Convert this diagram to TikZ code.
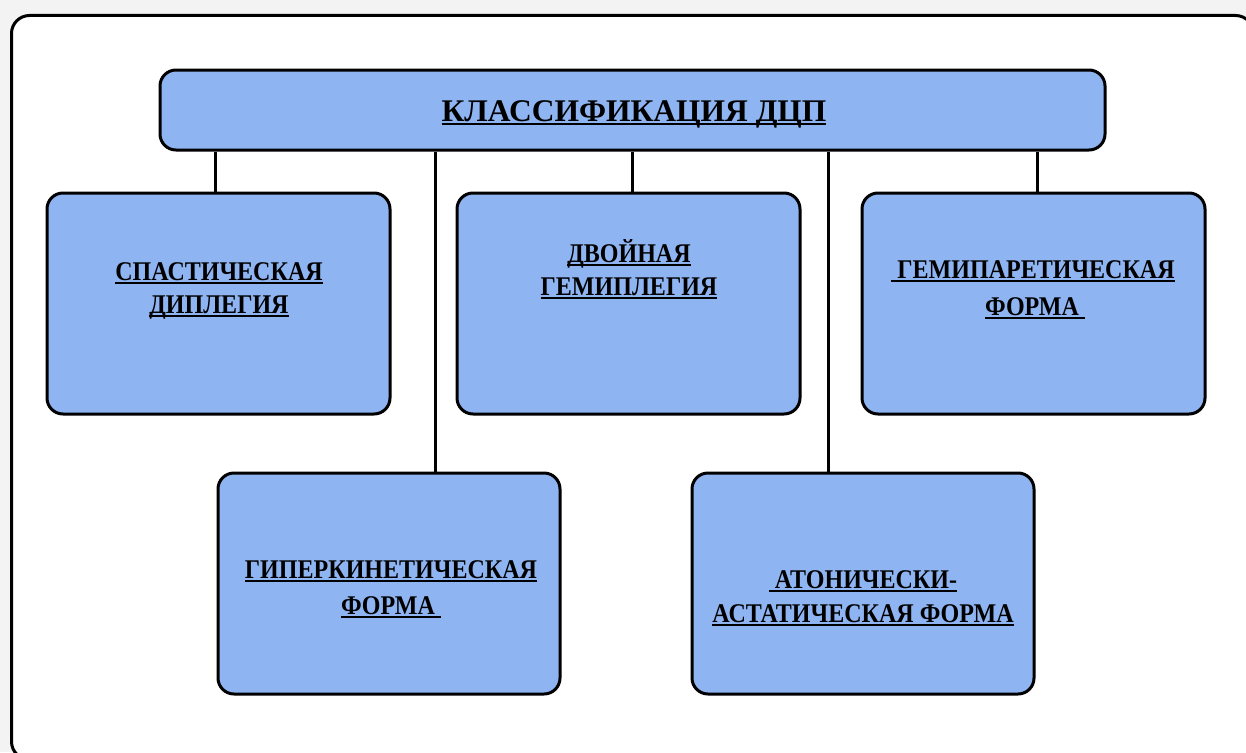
\documentclass[tikz,border=0pt]{standalone}
\usepackage{fontspec}
\setmainfont{Liberation Serif}
\newfontfamily\boxfont[FakeStretch=0.89]{Liberation Serif}
\definecolor{boxblue}{HTML}{8EB4F2}
\definecolor{bggray}{HTML}{F3F3F3}
\newcommand\myul[1]{\setbox0\hbox{#1}\rlap{\rule[-4pt]{\wd0}{2pt}}\box0}
\tikzset{
  box/.style={draw=black, line width=3pt, rounded corners=16pt, fill=boxblue, inner sep=0pt},
  conn/.style={draw=black, line width=3pt},
  lbl/.style={anchor=base, inner sep=0pt, font=\boxfont\bfseries\fontsize{27}{32}\selectfont},
  ttl/.style={anchor=base, inner sep=0pt, font=\bfseries\fontsize{31.5}{36}\selectfont}
}
\begin{document}
\begin{tikzpicture}[x=1pt,y=-1pt]
\useasboundingbox (0,0) rectangle (1246,752);
\fill[bggray] (0,0) rectangle (1246,752);
\begin{scope}
\clip (0,0) rectangle (1246,752);
\node[draw=black, line width=3pt, rounded corners=18pt, fill=white, minimum width=1242pt, minimum height=744pt, anchor=north west, inner sep=0pt] (frame) at (10,14) {};
\end{scope}
% boxes
\node[box, minimum width=945pt, minimum height=80pt] (top) at (632.5,110) {};
\node[box, minimum width=343pt, minimum height=221pt] (b1) at (218.5,303.5) {};
\node[box, minimum width=343pt, minimum height=221pt] (b2) at (628.5,303.5) {};
\node[box, minimum width=343pt, minimum height=221pt] (b3) at (1033.5,303.5) {};
\node[box, minimum width=342pt, minimum height=221pt] (b4) at (389,583.5) {};
\node[box, minimum width=342pt, minimum height=221pt] (b5) at (863,583.5) {};
% connector x positions
\coordinate (c1) at (215,0);
\coordinate (c2) at (435,0);
\coordinate (c3) at (632,0);
\coordinate (c4) at (828,0);
\coordinate (c5) at (1037,0);
\draw[conn] (top.south -| c1) -- (b1.north -| c1);
\draw[conn] (top.south -| c2) -- (b4.north -| c2);
\draw[conn] (top.south -| c3) -- (b2.north -| c3);
\draw[conn] (top.south -| c4) -- (b5.north -| c4);
\draw[conn] (top.south -| c5) -- (b3.north -| c5);
% labels
\node[ttl] (t0) at (634,121) {\myul{КЛАССИФИКАЦИЯ ДЦП}};
\node[lbl] (t1a) at (219,280) {\myul{СПАСТИЧЕСКАЯ}};
\node[lbl] (t1b) at (219,313) {\myul{ДИПЛЕГИЯ}};
\node[lbl] (t2a) at (629,262) {\myul{ДВОЙНАЯ}};
\node[lbl] (t2b) at (629,295) {\myul{ГЕМИПЛЕГИЯ}};
\node[lbl] (t3a) at (1033,278) {\myul{\ ГЕМИПАРЕТИЧЕСКАЯ}};
\node[lbl] (t3b) at (1035,315) {\myul{ФОРМА\ }};
\node[lbl] (t4a) at (391,578) {\myul{ГИПЕРКИНЕТИЧЕСКАЯ}};
\node[lbl] (t4b) at (391,614) {\myul{ФОРМА\ }};
\node[lbl] (t5a) at (863,588) {\myul{\ АТОНИЧЕСКИ-}};
\node[lbl] (t5b) at (863,622) {\myul{АСТАТИЧЕСКАЯ ФОРМА}};
\end{tikzpicture}
\end{document}
